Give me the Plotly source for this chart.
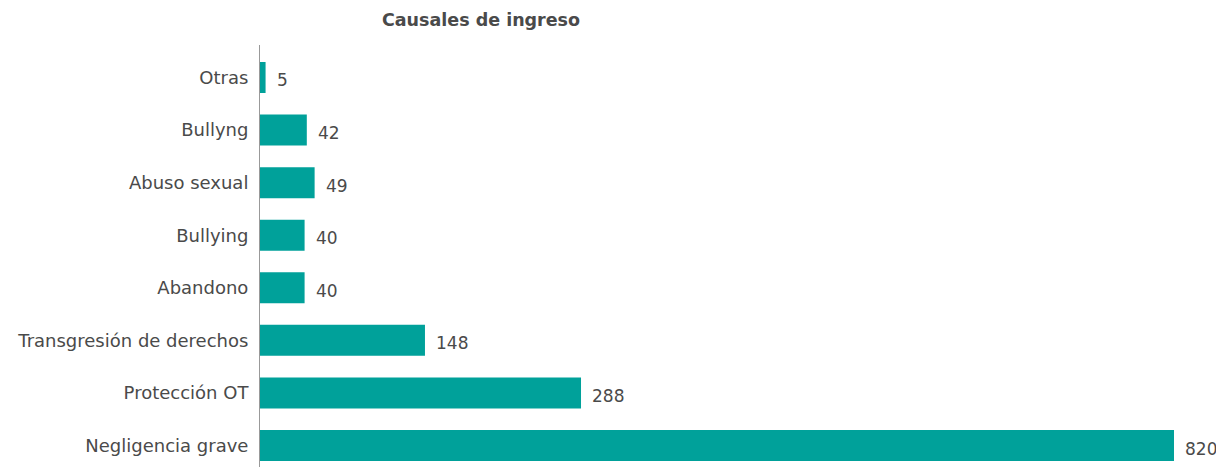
import plotly.graph_objects as go

categories = ["Negligencia grave", "Protección OT", "Transgresión de derechos", "Abandono",
              "Bullying", "Abuso sexual", "Bullyng", "Otras"]
values = [820, 288, 148, 40, 40, 49, 42, 5]

BAR_COLOR = "#00A19A"
TEXT_COLOR = "#4a4a4a"
FONT = "'DejaVu Sans', 'Open Sans', sans-serif"
OFF = 8  # page body offset

fig = go.Figure()
fig.add_trace(go.Bar(
    y=categories, x=values, orientation="h",
    marker=dict(color=BAR_COLOR, line=dict(width=0)),
    hoverinfo="x+y",
))

for c, v in zip(categories, values):
    fig.add_annotation(x=v, y=c, text=str(v), showarrow=False,
                       xanchor="left", yanchor="middle", xshift=9, yshift=-3,
                       font=dict(family=FONT, size=17, color=TEXT_COLOR))

fig.update_layout(
    width=1224, height=467,
    margin=dict(l=260 - OFF, r=OFF, t=45 - OFF, b=OFF),
    paper_bgcolor="white", plot_bgcolor="white",
    bargap=0.41,
    showlegend=False,
    font=dict(family=FONT, size=17.5, color=TEXT_COLOR),
    title=dict(text="<b>Causales de ingreso</b>", x=(481 - OFF) / 1224, xref="container", xanchor="center",
               y=1 - (20 - OFF) / 467, yref="container", yanchor="middle",
               font=dict(family=FONT, size=17.5, color=TEXT_COLOR)),
    xaxis=dict(range=[0, (1224 - 260) / (914 / 820)], showgrid=False, zeroline=False,
               showticklabels=False, showline=False, ticks=""),
    yaxis=dict(type="category", categoryorder="array", categoryarray=categories,
               range=[-0.409, 7.618], showgrid=False, zeroline=False,
               showline=True, linecolor="#999999", linewidth=1, ticks="",
               ticklabelstandoff=7, tickfont=dict(family=FONT, size=18, color=TEXT_COLOR)),
)

fig.write_html("out.html")
